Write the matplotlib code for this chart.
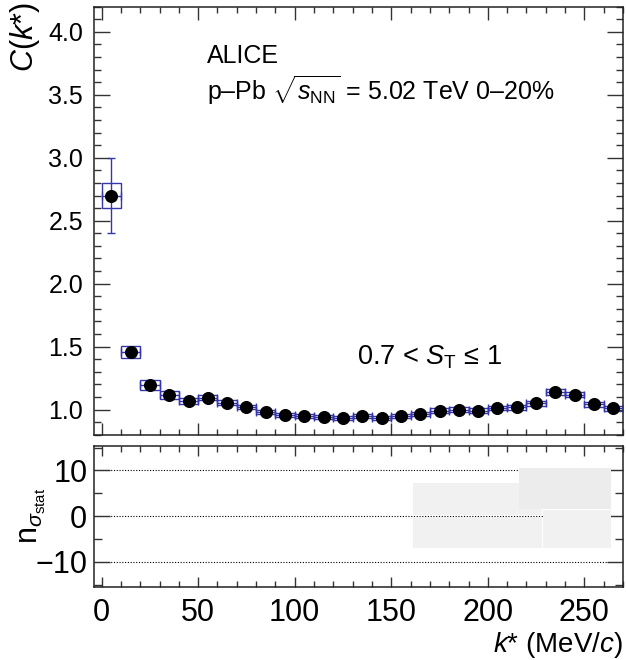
import matplotlib
matplotlib.use("Agg")
import matplotlib.pyplot as plt
from matplotlib.ticker import MultipleLocator
import numpy as np

plt.rcParams['font.family'] = ['Liberation Sans', 'DejaVu Sans']
plt.rcParams['mathtext.fontset'] = 'custom'
plt.rcParams['mathtext.rm'] = 'Liberation Sans'
plt.rcParams['mathtext.it'] = 'Liberation Sans:italic'
plt.rcParams['mathtext.bf'] = 'Liberation Sans:bold'

# ---- data ----
kstar = [5, 15, 25, 35, 45, 55, 65, 75, 85, 95, 105, 115, 125, 135, 145,
         155, 165, 175, 185, 195, 205, 215, 225, 235, 245, 255, 265]
ck = [2.70, 1.458, 1.196, 1.114, 1.066, 1.093, 1.053, 1.021, 0.982, 0.960,
      0.947, 0.942, 0.934, 0.947, 0.934, 0.952, 0.966, 0.992, 1.000, 0.992,
      1.013, 1.018, 1.050, 1.137, 1.119, 1.040, 1.008]
stat_err = [0.295, 0.02, 0.015, 0.012, 0.01, 0.01, 0.01, 0.01, 0.01, 0.01,
            0.01, 0.01, 0.01, 0.01, 0.01, 0.01, 0.01, 0.01, 0.01, 0.01,
            0.01, 0.01, 0.01, 0.01, 0.01, 0.01, 0.01]
syst_err = [0.10, 0.045, 0.04, 0.03, 0.025, 0.02, 0.02, 0.018, 0.016, 0.016,
            0.016, 0.016, 0.016, 0.016, 0.016, 0.016, 0.016, 0.016, 0.016, 0.016,
            0.017, 0.018, 0.02, 0.022, 0.022, 0.02, 0.018]
bin_width = 10

# lower panel grey areas: (x_lo, x_hi, y_lo, y_hi)
band_xlo = [161, 161, 216, 228.5]
band_xhi = [228, 228, 264, 264]
band_ylo = [0.15, -6.9, 1.5, -6.9]
band_yhi = [7.3, -0.15, 10.6, 1.3]
band_col = ['#f1f1f1', '#f1f1f1', '#ececec', '#f1f1f1']
ref_lines = [10, 0, -10]

blue = '#3535ad'

fig = plt.figure(figsize=(6.26, 6.6), dpi=100)
ax1 = fig.add_axes([0.1506, 0.3414, 0.8446, 0.6484])
ax2 = fig.add_axes([0.1506, 0.1111, 0.8446, 0.2136])

k = np.array(kstar)
y = np.array(ck)
sy = np.array(syst_err)

# systematic boxes
ax1.bar(k, 2 * sy, bottom=y - sy, width=bin_width, fill=False,
        edgecolor=blue, linewidth=1.0, zorder=2)
# stat errors
ax1.errorbar(k, y, yerr=stat_err, xerr=bin_width / 2, fmt='none',
             ecolor=blue, elinewidth=1.0, capsize=3, capthick=1.0, zorder=3)
ax1.plot(k, y, 'o', color='black', markersize=8.4, zorder=4)

ax1.set_xlim(-3.8, 270)
ax1.set_ylim(0.8, 4.2)
ax1.xaxis.set_major_locator(MultipleLocator(50))
ax1.xaxis.set_minor_locator(MultipleLocator(10))
ax1.yaxis.set_major_locator(MultipleLocator(0.5))
ax1.yaxis.set_minor_locator(MultipleLocator(0.1))
ax1.yaxis.set_major_formatter(plt.FormatStrFormatter('%.1f'))
ax1.tick_params(axis='both', which='both', direction='in', top=True, right=True,
                width=1.0, color='#333333')
ax1.tick_params(axis='x', which='major', length=9, labelbottom=False)
ax1.tick_params(axis='x', which='minor', length=4.5)
ax1.tick_params(axis='y', which='major', length=11.5, labelsize=18, pad=8)
ax1.tick_params(axis='y', which='minor', length=5)
for s in ax1.spines.values():
    s.set_linewidth(1.1)
    s.set_color('#222222')

ax1.text(0.213, 0.868, 'ALICE', transform=ax1.transAxes, fontsize=18,
         va='baseline', ha='left')
ax1.text(0.213, 0.782, r'p–Pb $\sqrt{s_{\mathrm{NN}}}$ = 5.02 TeV 0–20%',
         transform=ax1.transAxes, fontsize=18, va='baseline', ha='left')
ax1.text(0.497, 0.163, r'0.7 < $S_{\mathrm{T}}$ ≤ 1', transform=ax1.transAxes,
         fontsize=19.5, va='baseline', ha='left')

# lower panel
for rl in ref_lines:
    ax2.axhline(rl, color='black', linestyle=(0, (1, 1.5)), linewidth=0.8, zorder=1)
for xl, xh, yl, yh, c in zip(band_xlo, band_xhi, band_ylo, band_yhi, band_col):
    ax2.fill_between([xl, xh], [yl, yl], [yh, yh], color=c, linewidth=0, zorder=2)

ax2.set_xlim(-3.8, 270)
ax2.set_ylim(-15.4, 15.4)
ax2.xaxis.set_major_locator(MultipleLocator(50))
ax2.xaxis.set_minor_locator(MultipleLocator(10))
ax2.yaxis.set_major_locator(MultipleLocator(10))
ax2.yaxis.set_minor_locator(MultipleLocator(5))
ax2.tick_params(axis='both', which='both', direction='in', top=True, right=True,
                width=1.0, color='#333333')
ax2.tick_params(axis='x', which='major', length=7, labelsize=22, pad=8)
ax2.tick_params(axis='x', which='minor', length=4)
ax2.tick_params(axis='y', which='major', length=11.5, labelsize=22, pad=5)
ax2.tick_params(axis='y', which='minor', length=5.5)
for s in ax2.spines.values():
    s.set_linewidth(1.1)
    s.set_color('#222222')

fig.text(0.040, 0.996, r'$C$($k$*)', rotation=90, fontsize=22, ha='center', va='top')
fig.text(0.053, 0.218, r'n$_{\sigma_{\mathrm{stat}}}$', rotation=90, fontsize=22,
         ha='center', va='center')
fig.text(0.995, 0.012, r'$k$* (MeV/$c$)', fontsize=20, ha='right', va='baseline')

fig.savefig('out.png', dpi=100, facecolor='white')
